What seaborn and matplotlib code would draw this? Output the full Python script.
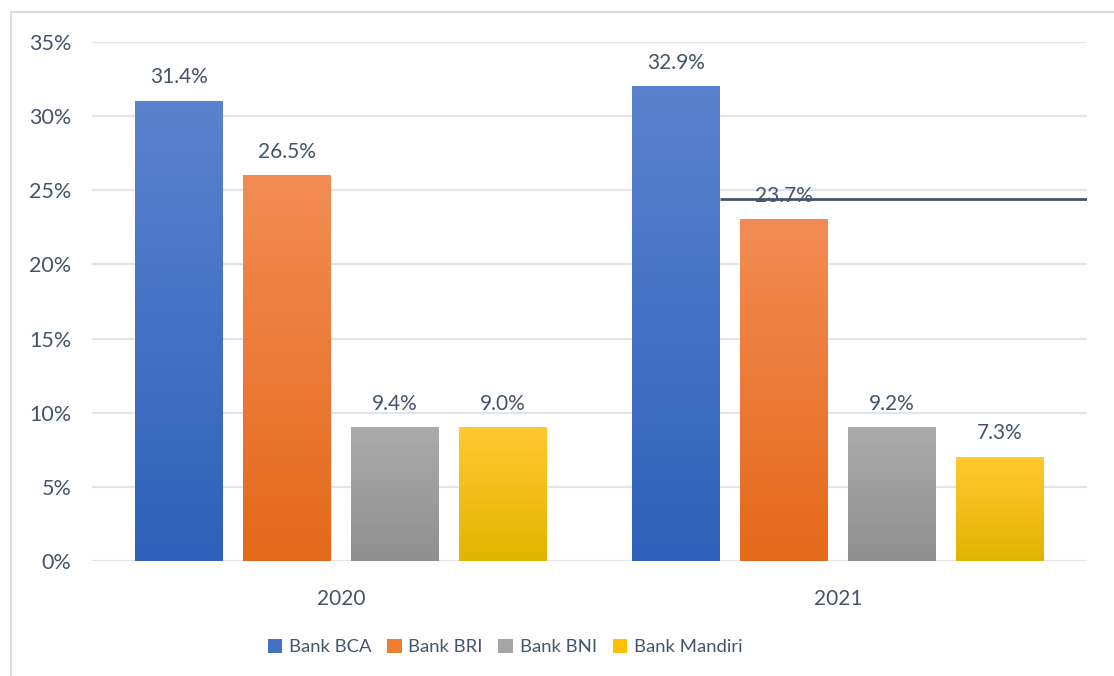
import matplotlib
matplotlib.use("Agg")
import matplotlib.pyplot as plt
import seaborn as sns
import pandas as pd
import numpy as np
from matplotlib.colors import LinearSegmentedColormap
from matplotlib.patches import Rectangle

years = ["2020", "2021"]
banks = ["Bank BCA", "Bank BRI", "Bank BNI", "Bank Mandiri"]
# bar heights (as drawn) per bank for 2020, 2021
bar_values = {
    "Bank BCA": [31.0, 32.0],
    "Bank BRI": [26.0, 23.0],
    "Bank BNI": [9.0, 9.0],
    "Bank Mandiri": [9.0, 7.0],
}
# data labels shown above bars
bar_labels = {
    "Bank BCA": ["31.4%", "32.9%"],
    "Bank BRI": ["26.5%", "23.7%"],
    "Bank BNI": ["9.4%", "9.2%"],
    "Bank Mandiri": ["9.0%", "7.3%"],
}
y_ticks = [0, 5, 10, 15, 20, 25, 30, 35]
stray_line_value = 24.4

# gradient colors (top, bottom)
grad = {
    "Bank BCA": ("#5B82CD", "#2E61BA"),
    "Bank BRI": ("#F28C55", "#E4691A"),
    "Bank BNI": ("#ABABAB", "#8F8F8F"),
    "Bank Mandiri": ("#FFC930", "#E2B400"),
}
legend_colors = {
    "Bank BCA": "#4472C4",
    "Bank BRI": "#ED7D31",
    "Bank BNI": "#A5A5A5",
    "Bank Mandiri": "#FFC000",
}
text_color = "#44546A"
grid_color = "#E1E4EA"

rows = []
for b in banks:
    for i, y in enumerate(years):
        rows.append({"year": y, "bank": b, "value": bar_values[b][i], "label": bar_labels[b][i]})
df = pd.DataFrame(rows)

sns.set_theme(style="white")
plt.rcParams["font.family"] = ["Lato", "DejaVu Sans"]

W, H = 1114, 676
fig = plt.figure(figsize=(W / 100, H / 100), dpi=100)
ax = fig.add_axes([92 / W, (H - 561) / H, (1087 - 92) / W, (561 - 42) / H])

sns.barplot(data=df, x="year", y="value", hue="bank", order=years, hue_order=banks,
            width=0.868, gap=0.185, legend=False, ax=ax, palette=legend_colors,
            errorbar=None, zorder=3)

ax.set_xlim(-0.5, 1.5)
ax.set_ylim(0, 35)

for b, cont in zip(banks, ax.containers):
    top, bot = grad[b]
    cmap = LinearSegmentedColormap.from_list(b, [bot, top])
    g = np.linspace(0, 1, 256).reshape(-1, 1)
    for i, p in enumerate(cont.patches):
        x0, w, h = p.get_x(), p.get_width(), p.get_height()
        p.set_visible(False)
        ax.imshow(g, extent=[x0, x0 + w, 0, h], origin="lower", aspect="auto",
                  cmap=cmap, zorder=3, interpolation="bicubic")
        ax.annotate(bar_labels[b][i], (x0 + w / 2, h), xytext=(0, 10),
                    textcoords="offset points", ha="center", va="bottom",
                    fontsize=15, color=text_color, zorder=5)

ax.set_xlim(-0.5, 1.5)
ax.set_ylim(0, 35)
ax.set_aspect("auto")

ax.set_yticks(y_ticks)
ax.set_yticklabels([f"{t}%" for t in y_ticks])
ax.yaxis.grid(True, color=grid_color, linewidth=1.6, zorder=0)
ax.set_axisbelow(True)
for s in ax.spines.values():
    s.set_visible(False)
ax.tick_params(axis="y", length=0, pad=15, labelsize=15.5, labelcolor=text_color)
ax.tick_params(axis="x", length=0, pad=20, labelsize=15, labelcolor=text_color)
ax.set_xlabel("")
ax.set_ylabel("")

# stray dark line from right edge of 2021 BCA bar to the axis end
bca21 = ax.containers[0].patches[1]
ax.plot([bca21.get_x() + bca21.get_width(), 1.5], [stray_line_value, stray_line_value],
        color="#44546A", linewidth=2, zorder=6, solid_capstyle="butt")

handles = [Rectangle((0, 0), 1, 1, facecolor=legend_colors[b], edgecolor="none") for b in banks]
fig.legend(handles, banks, loc="center", bbox_to_anchor=(505 / W, 1 - 647 / H),
           ncol=4, frameon=False, fontsize=13.3, labelcolor=text_color,
           handlelength=0.8, handleheight=0.8, handletextpad=0.35, columnspacing=0.85)

# chart border
fig.patches.append(Rectangle((11 / W, -0.2), 1.2, 0.2 + (H - 12) / H,
                             transform=fig.transFigure, fill=False,
                             edgecolor="#D9DDE3", linewidth=1.5, figure=fig))

fig.savefig("out.png", dpi=100)
